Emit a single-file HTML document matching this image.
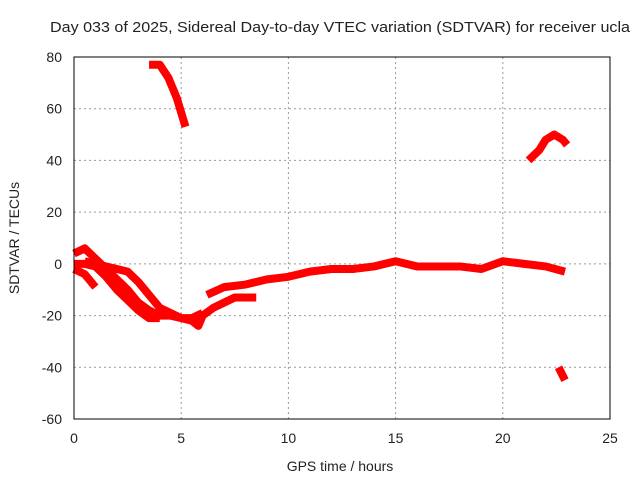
<!DOCTYPE html>
<html><head><meta charset="utf-8"><style>
body{margin:0;background:#fff}
svg text{font-family:"Liberation Sans",sans-serif;font-size:14px;fill:#222}
</style></head><body>
<svg id="chart" width="640" height="480">
<text x="50" y="32" textLength="580" lengthAdjust="spacingAndGlyphs" style="font-size:15px">Day 033 of 2025, Sidereal Day-to-day VTEC variation (SDTVAR) for receiver ucla</text>
<g id="grid"></g>
<g id="series"></g>
<rect x="74" y="57" width="536" height="362" fill="none" stroke="#000"/>
<g id="ticks"></g>
<text x="340" y="471" text-anchor="middle">GPS time / hours</text>
<text transform="translate(19,238) rotate(-90)" text-anchor="middle">SDTVAR / TECUs</text>
</svg>
<script>
const xTicks=[0,5,10,15,20,25];
const yTicks=[80,60,40,20,0,-20,-40,-60];
const segA=[[3.5,77],[4.0,77],[4.4,72],[4.8,64],[5.2,53]];
const segB=[[21.2,40],[21.7,44],[22.0,48],[22.4,50],[22.8,48],[23.0,46]];
const segC=[[22.6,-40],[22.9,-45]];
const seg1=[[0,4],[0.5,6],[1.0,2],[1.5,-2],[2.0,-6],[2.5,-10],[3.0,-15],[3.5,-18],[4.0,-20],[4.5,-20],[5.0,-21],[5.5,-21],[6.0,-19]];
const seg2=[[0,0],[0.5,0],[1.0,-1],[1.5,-5],[2.0,-10],[2.5,-14],[3.0,-18],[3.5,-21],[4.0,-21]];
const seg3=[[0,-2],[0.5,-4],[1.0,-9]];
const seg4=[[0.5,1],[1,0],[2.0,-2],[2.5,-3],[3.0,-7],[3.5,-12],[4.0,-17],[4.5,-19],[5,-21],[5.5,-22],[5.8,-24],[6,-20],[6.5,-17],[7,-15],[7.5,-13],[8,-13],[8.5,-13]];
const seg5=[[6.2,-12],[7,-9],[8,-8],[9,-6],[10,-5],[11,-3],[12,-2],[13,-2],[14,-1],[15,1],[16,-1],[17,-1],[18,-1],[19,-2],[20,1],[21,0],[22,-1],[22.9,-3]];
const segments=[segA,segB,segC,seg1,seg2,seg3,seg4,seg5];
const X=h=>74+h*536/25, Y=v=>57+(80-v)*362/140;
const NS="http://www.w3.org/2000/svg";
const grid=document.getElementById('grid'),ticks=document.getElementById('ticks'),ser=document.getElementById('series');
function mk(tag,attrs,parent){const e=document.createElementNS(NS,tag);for(const k in attrs)e.setAttribute(k,attrs[k]);parent.appendChild(e);return e;}
xTicks.forEach(t=>{const x=X(t);
 if(t>0&&t<25){const l=mk('line',{x1:x,x2:x,y1:57,y2:419,stroke:'#999','stroke-dasharray':'2,3'},grid);}
 const tx=mk('text',{x:x,y:443,'text-anchor':'middle'},ticks);tx.textContent=t;
 
 
});
yTicks.forEach(t=>{const y=Y(t);
 if(t<80&&t>-60){const l=mk('line',{x1:74,x2:610,y1:y,y2:y,stroke:'#999','stroke-dasharray':'2,3'},grid);}
 const tx=mk('text',{x:62,y:y+5,'text-anchor':'end'},ticks);tx.textContent=t;
 
 
});
segments.forEach(s=>{
 const p=mk('polyline',{points:s.map(d=>X(d[0])+','+Y(d[1])).join(' '),fill:'none',stroke:'#f00','stroke-width':8,'stroke-linejoin':'round'},ser);
 
 
});
</script>
</body></html>
